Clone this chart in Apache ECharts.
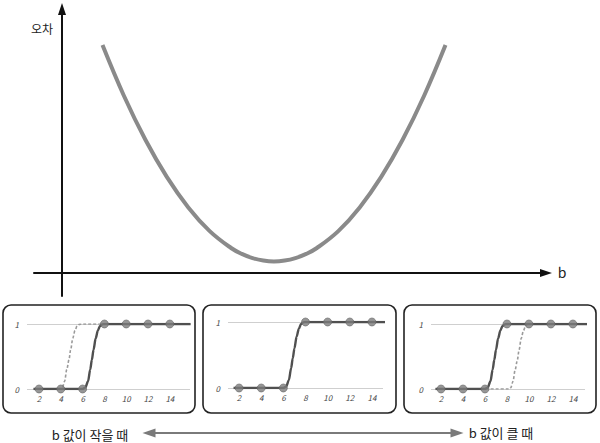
<!DOCTYPE html>
<html>
<head>
<meta charset="utf-8">
<script src="https://cdn.jsdelivr.net/npm/echarts@6/dist/echarts.min.js"></script>
<style>
html,body{margin:0;padding:0;background:#fff;}
#c{width:600px;height:443px;}
</style>
</head>
<body>
<div id="c"></div>
<script>
// ---- data ----
// main error curve (b, error)
const curveB   = [4.05, 6.19, 8.34, 10.48, 12.63, 14.77, 16.91, 17.98, 19.06, 20.13, 21.2, 22.27, 23.34, 24.42, 25.49, 27.63, 29.77, 31.92, 34.06, 36.21, 38.35];
const curveErr = [22.8, 17.73, 13.32, 9.61, 6.56, 4.19, 2.50, 1.91, 1.49, 1.24, 1.15, 1.24, 1.49, 1.91, 2.50, 4.19, 6.56, 9.61, 13.32, 17.73, 22.8];

// small panels: x tick labels
const panelTicks = [2, 4, 6, 8, 10, 12, 14];
const panelYTicks = [0, 1];

// reference (solid) sigmoid, same in all panels
const solidX = [1.5, 2, 4, 6, 6.25, 6.5, 6.7, 6.85, 7.0, 7.2, 7.4, 7.6, 7.8, 8, 10, 12, 14, 15.9];
const solidY = [0, 0, 0, 0, 0.02, 0.12, 0.3, 0.45, 0.6, 0.78, 0.9, 0.97, 0.995, 1, 1, 1, 1, 1];

// dashed sigmoid when b small (left panel)
const smallX = [1.5, 4, 4.15, 4.35, 4.55, 4.75, 4.9, 5.1, 5.3, 5.5, 5.7, 5.9, 6.1, 15.9];
const smallY = [0, 0, 0.02, 0.12, 0.3, 0.45, 0.6, 0.78, 0.9, 0.97, 0.995, 1, 1, 1];

// dashed sigmoid when b large (right panel)
const largeX = [1.5, 8.2, 8.35, 8.55, 8.75, 8.95, 9.1, 9.3, 9.5, 9.7, 9.85, 10, 15.9];
const largeY = [0, 0, 0.02, 0.12, 0.3, 0.45, 0.6, 0.78, 0.9, 0.97, 0.995, 1, 1];

// dots on the solid curve
const dotX = [2, 4, 6, 8, 10, 12, 14];
const dotY = [0, 0, 0, 1, 1, 1, 1];

const zip = (xs, ys) => xs.map((x, i) => [x, ys[i]]);

// ---- layout ----
const FONT = '"Noto Sans CJK KR", "Noto Sans", sans-serif';
const panels = [
  {left: 27, width: 163, top: 324, height: 65, min: 0.9, max: 15.85, box: [3, 305, 192, 108], dashed: zip(smallX, smallY)},
  {left: 228, width: 155, top: 322, height: 66, min: 1.0, max: 15.0, box: [203, 305, 193, 108], dashed: null},
  {left: 431, width: 154, top: 324, height: 65, min: 1.09, max: 15.1, box: [404, 305, 192, 108], dashed: zip(largeX, largeY)}
];

const grid = [
  {left: 34, top: 9, width: 512, height: 287},
  ...panels.map(p => ({left: p.left, top: p.top, width: p.width, height: p.height})),
  {left: 149, top: 433, width: 308, height: 0}
];

const xAxis = [
  {gridIndex: 0, type: 'value', min: -2.8, max: 48.4,
   axisLine: {onZero: true, symbol: ['none', 'triangle'], symbolSize: [8, 12], lineStyle: {color: '#111', width: 2}},
   axisTick: {show: false}, axisLabel: {show: false}, splitLine: {show: false}},
  ...panels.map((p, i) => ({gridIndex: i + 1, type: 'value', min: p.min, max: p.max,
   axisLine: {show: false}, axisTick: {show: false}, splitLine: {show: false},
   axisLabel: {customValues: panelTicks, fontSize: 8, fontStyle: 'italic', color: '#444', margin: 5, fontFamily: FONT}})),
  {gridIndex: 4, type: 'value', min: 0, max: 1,
   axisLine: {symbol: ['triangle', 'triangle'], symbolSize: [9, 13], lineStyle: {color: '#7a7a7a', width: 2}},
   axisTick: {show: false}, axisLabel: {show: false}, splitLine: {show: false}}
];

const yAxis = [
  {gridIndex: 0, type: 'value', min: -2.3, max: 26.4,
   axisLine: {onZero: true, symbol: ['none', 'triangle'], symbolSize: [8, 12], lineStyle: {color: '#111', width: 2}},
   axisTick: {show: false}, axisLabel: {show: false}, splitLine: {show: false}},
  ...panels.map((p, i) => ({gridIndex: i + 1, type: 'value', min: 0, max: 1, interval: 1,
   axisLine: {show: false}, axisTick: {show: false},
   splitLine: {show: true, lineStyle: {color: '#cfcfcf', width: 1.2}},
   axisLabel: {customValues: panelYTicks, fontSize: 8, fontStyle: 'italic', color: '#444', margin: 8, fontFamily: FONT}})),
  {gridIndex: 4, type: 'value', show: false}
];

const series = [
  {type: 'line', xAxisIndex: 0, yAxisIndex: 0, data: zip(curveB, curveErr), smooth: 0.4,
   showSymbol: false, lineStyle: {color: '#8a8a8a', width: 4}, silent: true}
];
panels.forEach((p, i) => {
  if (p.dashed) {
    series.push({type: 'line', xAxisIndex: i + 1, yAxisIndex: i + 1, data: p.dashed, smooth: 0.3,
      smoothMonotone: 'x', showSymbol: false, z: 2,
      lineStyle: {color: '#9a9a9a', width: 1.6, type: [3, 2]}});
  }
  series.push({type: 'line', xAxisIndex: i + 1, yAxisIndex: i + 1, data: zip(solidX, solidY), smooth: 0.3,
    smoothMonotone: 'x', showSymbol: false, z: 3,
    lineStyle: {color: '#505050', width: 2.4}});
  series.push({type: 'scatter', xAxisIndex: i + 1, yAxisIndex: i + 1, data: zip(dotX, dotY),
    symbolSize: 8, z: 4, clip: false, itemStyle: {color: '#7c7c7c', borderColor: '#6a6a6a', borderWidth: 0.8}});
});

const graphic = [
  ...panels.map(p => ({type: 'rect', shape: {x: p.box[0], y: p.box[1], width: p.box[2], height: p.box[3], r: 8},
    style: {fill: 'none', stroke: '#222', lineWidth: 1.6}, z: 10})),
  {type: 'text', x: 42, y: 28, style: {text: '오차', font: '12px ' + FONT, fill: '#222', align: 'center', verticalAlign: 'middle'}},
  {type: 'text', x: 562, y: 272, style: {text: 'b', font: '14px ' + FONT, fill: '#222', align: 'center', verticalAlign: 'middle'}},
  {type: 'text', x: 90, y: 434, style: {text: 'b 값이 작을 때', font: '13px ' + FONT, fill: '#222', align: 'center', verticalAlign: 'middle'}},
  {type: 'text', x: 501, y: 432, style: {text: 'b 값이 클 때', font: '13px ' + FONT, fill: '#222', align: 'center', verticalAlign: 'middle'}}
];

const chart = echarts.init(document.getElementById('c'), null, {renderer: 'svg'});
chart.setOption({animation: false, grid, xAxis, yAxis, series, graphic});
</script>
</body>
</html>
